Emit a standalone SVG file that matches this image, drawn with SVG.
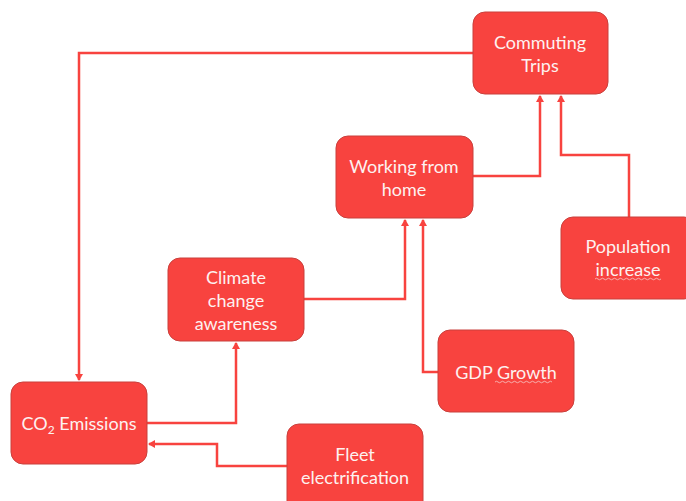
<svg xmlns="http://www.w3.org/2000/svg" width="686" height="501" viewBox="0 0 686 501">
<style>
.box{fill:#F8433F;stroke:#C9403C;stroke-width:1}
.t{fill:#FDF1F0;font-family:Lato,"Open Sans","Liberation Sans",sans-serif;font-size:18px;text-anchor:middle}
.c{fill:none;stroke:#F8433F;stroke-width:2.5}
.sq{fill:none;stroke:#F6C9C7;stroke-width:0.8}
</style>
<defs>
<marker id="ah" markerWidth="8" markerHeight="8" refX="6" refY="4" orient="auto" markerUnits="userSpaceOnUse">
<path d="M0,0 L7,4 L0,8 Z" fill="#F8433F"/>
</marker>
</defs>
<rect width="686" height="501" fill="#FFFFFF"/>
<g id="connectors">
<polyline class="c" points="473,53 79,53 79,380" marker-end="url(#ah)"/>
<polyline class="c" points="473,176 540,176 540,96" marker-end="url(#ah)"/>
<polyline class="c" points="629,217 629,155 561,155 561,96" marker-end="url(#ah)"/>
<polyline class="c" points="304,299 405,299 405,220" marker-end="url(#ah)"/>
<polyline class="c" points="438,372 423,372 423,220" marker-end="url(#ah)"/>
<polyline class="c" points="147,423 236,423 236,343" marker-end="url(#ah)"/>
<polyline class="c" points="287,466 217,466 217,444 149,444" marker-end="url(#ah)"/>
</g>
<g id="commuting">
<rect class="box" x="473" y="12" width="135" height="82" rx="12"/>
<text class="t" x="540" y="49">Commuting</text>
<text class="t" x="540" y="72">Trips</text>
</g>
<g id="wfh">
<rect class="box" x="336" y="136" width="137" height="82" rx="12"/>
<text class="t" x="404" y="173">Working from</text>
<text class="t" x="404" y="196">home</text>
</g>
<g id="population">
<rect class="box" x="561" y="217" width="135" height="82" rx="12"/>
<text class="t" x="628" y="253">Population</text>
<text class="t" x="628" y="276">increase</text>
<path class="sq" d="M595,279 q1.5,-1.5 3,0 t3,0 t3,0 t3,0 t3,0 t3,0 t3,0 t3,0 t3,0 t3,0 t3,0 t3,0 t3,0 t3,0 t3,0 t3,0 t3,0 t3,0 t3,0 t3,0 t3,0 t3,0"/>
</g>
<g id="climate">
<rect class="box" x="168" y="258" width="136" height="83" rx="12"/>
<text class="t" x="236" y="284">Climate</text>
<text class="t" x="236" y="307">change</text>
<text class="t" x="236" y="330">awareness</text>
</g>
<g id="gdp">
<rect class="box" x="438" y="330" width="136" height="82" rx="12"/>
<text class="t" x="506" y="379">GDP Growth</text>
<path class="sq" d="M495,382 q1.5,-1.5 3,0 t3,0 t3,0 t3,0 t3,0 t3,0 t3,0 t3,0 t3,0 t3,0 t3,0 t3,0 t3,0 t3,0 t3,0 t3,0 t3,0 t3,0 t3,0"/>
</g>
<g id="co2">
<rect class="box" x="11" y="382" width="136" height="82" rx="12"/>
<text class="t" x="79" y="430">CO<tspan font-size="12" dy="4">2</tspan><tspan dy="-4"> Emissions</tspan></text>
</g>
<g id="fleet">
<rect class="box" x="287" y="424" width="136" height="90" rx="12"/>
<text class="t" x="355" y="461">Fleet</text>
<text class="t" x="355" y="484">electrification</text>
</g>
</svg>
